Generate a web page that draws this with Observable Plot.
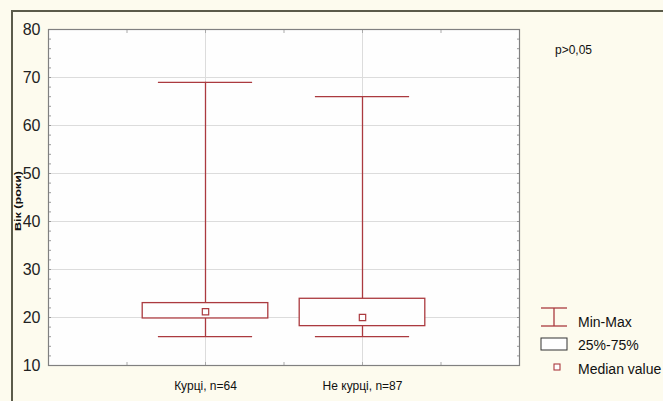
<!DOCTYPE html>
<html>
<head>
<meta charset="utf-8">
<script src="https://cdn.jsdelivr.net/npm/d3@7"></script>
<script src="https://cdn.jsdelivr.net/npm/@observablehq/plot@0.6"></script>
<style>
  html, body { margin: 0; padding: 0; background: #fdfbee; }
  #wrap { position: relative; width: 663px; height: 401px; overflow: hidden; }
  #border { position: absolute; left: 11px; top: 10px; right: -5px; bottom: -5px;
            border-top: 2px solid #5b5b4a; border-left: 2px solid #5b5b4a; pointer-events: none; }
</style>
</head>
<body>
<div id="wrap"><div id="border"></div></div>
<script>
// Data
const categories = ["Курці, n=64", "Не курці, n=87"];
const minValues = [16, 16];
const q1Values = [19.8, 18.2];
const medianValues = [21.2, 20.0];
const q3Values = [23, 23.9];
const maxValues = [69, 66];
const yTicks = [10, 20, 30, 40, 50, 60, 70, 80];
const pText = "p>0,05";
const legendLabels = ["Min-Max", "25%-75%", "Median value"];
const yLabel = "Вік (роки)";

const data = categories.map((c, i) => ({
  cat: c, pos: i + 1,
  min: minValues[i], q1: q1Values[i], med: medianValues[i], q3: q3Values[i], max: maxValues[i]
}));

const red = "#ab3a3f";
const capHalf = 0.3, boxHalf = 0.4;

const chart = Plot.plot({
  width: 663, height: 401,
  marginLeft: 48, marginRight: 144, marginTop: 29, marginBottom: 36,
  style: { background: "transparent", fontFamily: "Liberation Sans, Arial, sans-serif", overflow: "visible" },
  x: { domain: [0, 3], ticks: [1, 2], tickFormat: d => categories[d - 1], label: null },
  y: { domain: [10, 80], ticks: yTicks, label: null },
  marks: [
    Plot.frame({ fill: "#fefefe", stroke: "none" }),
    Plot.gridY(yTicks.slice(1, -1), { stroke: "#dcdcdc", strokeOpacity: 1 }),
    Plot.gridX([1, 2], { stroke: "#dcdcdc", strokeOpacity: 1 }),
    Plot.axisY(d3.range(10, 81, 2), { tickSize: -3, text: null, stroke: "#999", label: null }),
    Plot.axisY(d3.range(10, 81, 2), { anchor: "right", tickSize: -3, text: null, stroke: "#999", label: null }),
    Plot.axisX([0.5, 1, 1.5, 2, 2.5], { anchor: "top", tickSize: -3, text: null, stroke: "#aaa", label: null }),
    Plot.axisX([0.5, 1, 1.5, 2, 2.5], { anchor: "bottom", tickSize: -3, text: null, stroke: "#aaa", label: null }),
    Plot.frame({ stroke: "#808080", strokeWidth: 1.2 }),
    Plot.ruleX(data, { x: "pos", y1: "min", y2: "max", stroke: red, strokeWidth: 1.3 }),
    Plot.ruleY(data, { y: "min", x1: d => d.pos - capHalf, x2: d => d.pos + capHalf, stroke: red, strokeWidth: 1.3 }),
    Plot.ruleY(data, { y: "max", x1: d => d.pos - capHalf, x2: d => d.pos + capHalf, stroke: red, strokeWidth: 1.3 }),
    Plot.rect(data, { x1: d => d.pos - boxHalf, x2: d => d.pos + boxHalf, y1: "q1", y2: "q3", fill: "#fefefe", stroke: red, strokeWidth: 1.3 }),
    Plot.dot(data, { x: "pos", y: "med", symbol: "square", r: 3.6, fill: "#fefefe", stroke: red, strokeWidth: 1.2 }),
    Plot.axisY(yTicks, { tickSize: 0, tickPadding: 8, fontSize: 16, label: null, fill: "#222" }),
    Plot.axisX([1, 2], { tickSize: 0, tickPadding: 16, fontSize: 12, label: null, fill: "#111", tickFormat: d => categories[d - 1] })
  ]
});

document.getElementById("wrap").prepend(chart);

const svg = d3.select(chart);
const g = svg.append("g")
  .attr("font-family", "Liberation Sans, Arial, sans-serif")
  .attr("fill", "#111")
  .attr("text-anchor", "start");

g.append("text").attr("x", 555).attr("y", 54).attr("font-size", 12).text(pText);

g.append("text")
  .attr("transform", "translate(21,201) rotate(-90)")
  .attr("text-anchor", "middle").attr("font-size", 8.5).attr("font-weight", "bold")
  .attr("textLength", 60).attr("lengthAdjust", "spacingAndGlyphs")
  .text(yLabel);

// Legend
const lg = g.append("g");
lg.append("line").attr("x1", 541).attr("x2", 567).attr("y1", 308).attr("y2", 308).attr("stroke", red).attr("stroke-width", 1.3);
lg.append("line").attr("x1", 541).attr("x2", 567).attr("y1", 326).attr("y2", 326).attr("stroke", red).attr("stroke-width", 1.3);
lg.append("line").attr("x1", 554).attr("x2", 554).attr("y1", 308).attr("y2", 326).attr("stroke", red).attr("stroke-width", 1.3);
lg.append("rect").attr("x", 541).attr("y", 338).attr("width", 26).attr("height", 12).attr("fill", "#fefefe").attr("stroke", "#333").attr("stroke-width", 1);
lg.append("rect").attr("x", 554).attr("y", 364).attr("width", 6).attr("height", 6).attr("fill", "#fefefe").attr("stroke", red).attr("stroke-width", 1.1);
const ly = [327, 350, 374];
legendLabels.forEach((t, i) => {
  lg.append("text").attr("x", 578).attr("y", ly[i]).attr("font-size", 14).text(t);
});
</script>
</body>
</html>
